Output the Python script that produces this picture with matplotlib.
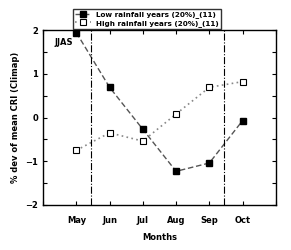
import numpy as np
import matplotlib
matplotlib.use("Agg")
import matplotlib.pyplot as plt
from matplotlib.pyplot import MultipleLocator

months = ["May", "Jun", "Jul", "Aug", "Sep", "Oct"]
low_rain = [1.94, 0.69, -0.27, -1.23, -1.04, -0.07]
high_rain = [-0.75, -0.35, -0.54, 0.08, 0.69, 0.82]
vlines = [1.45, 5.45]

x = np.arange(1, len(months) + 1)

fig = plt.figure(figsize=(2.91, 2.5), dpi=100)
ax = fig.add_axes([0.148, 0.18, 0.8, 0.70])

ax.plot(x, low_rain, ls=(0, (4, 2)), color="#555555", lw=1,
        marker="s", ms=4.5, mfc="black", mec="black",
        label="Low rainfall years (20%)_(11)")
ax.plot(x, high_rain, ls=(0, (1, 2)), color="#888888", lw=1.2,
        marker="s", ms=4.5, mfc="white", mec="black", mew=0.8,
        label="High rainfall years (20%)_(11)")

for v in vlines:
    ax.axvline(v, color="black", lw=0.8, ls="-.")

ax.text(0.35, 1.65, "JJAS", fontsize=6, fontweight="bold")

ax.set_xlim(0, 7)
ax.set_ylim(-2, 2)
ax.set_xticks(x)
ax.set_xticklabels(months, fontsize=6, fontweight="bold")
ax.xaxis.set_minor_locator(MultipleLocator(1))
ax.yaxis.set_major_locator(MultipleLocator(1))
ax.yaxis.set_minor_locator(MultipleLocator(0.5))
plt.yticks(fontsize=6, fontweight="bold")
ax.tick_params(which="both", direction="in", top=True, right=True, length=3, width=0.8)
ax.tick_params(axis="x", pad=8)

ax.set_xlabel("Months", fontsize=6, fontweight="bold", labelpad=6)
ax.set_ylabel("% dev of mean CRI (Climap)", fontsize=6, fontweight="bold")

for s in ax.spines.values():
    s.set_linewidth(1)

ax.legend(loc="lower center", bbox_to_anchor=(0.446, 0.985),
          frameon=True, fancybox=False, edgecolor="black", borderpad=0.3,
          handlelength=2.2, labelspacing=0.2, prop={"size": 5.2, "weight": "bold"})

fig.savefig("out.png", dpi=100)
